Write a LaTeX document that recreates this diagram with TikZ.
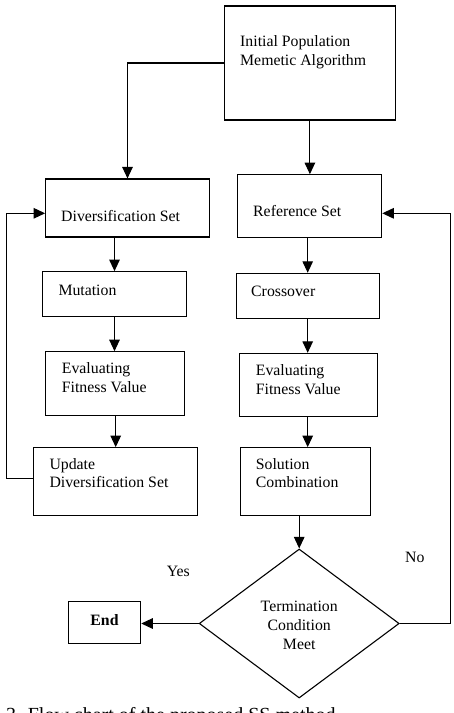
\documentclass[tikz,border=0pt]{standalone}
\usepackage{fontspec}
\setmainfont{Liberation Serif}
\usetikzlibrary{shapes.geometric,arrows.meta}
\begin{document}
\begin{tikzpicture}[x=1pt,y=-1pt,
  box/.style={draw,line width=1.1pt,inner sep=0pt,rectangle},
  dbox/.style={draw,line width=1.1pt,inner sep=0pt,diamond},
  % text is placed by the baseline of its first line
  txt/.style={inner sep=0pt,anchor=north west,align=left,yshift=12.95pt,
    font=\fontsize{15.8}{18.5}\selectfont,execute at begin node=\strut},
  ctxt/.style={inner sep=0pt,anchor=north,align=center,yshift=13.3pt,
    font=\fontsize{15.8}{19}\selectfont,execute at begin node=\strut},
  link/.style={line width=1.1pt,-{Triangle[length=11.5pt,width=10.5pt]}}]
\useasboundingbox (0,0) rectangle (453,713);
\clip (0,0) rectangle (453,713);
\fill[white] (0,0) rectangle (453,713);

% boxes
\node[box,minimum width=171.7,minimum height=114] (init) at (309.9,63) {};
\node[box,minimum width=163.6,minimum height=58] (div) at (127.5,208) {};
\node[box,minimum width=144.7,minimum height=62.3] (ref) at (309.4,205.9) {};
\node[box,minimum width=143.6,minimum height=45] (mut) at (114.5,294.2) {};
\node[box,minimum width=143.3,minimum height=45] (cross) at (307.7,295.8) {};
\node[box,minimum width=138.3,minimum height=63.3] (evalL) at (114.9,383.4) {};
\node[box,minimum width=138,minimum height=62.7] (evalR) at (308.7,384.7) {};
\node[box,minimum width=164,minimum height=67.6] (upd) at (115.7,481.5) {};
\node[box,minimum width=130.3,minimum height=67.6] (sol) at (305.2,481.5) {};
\node[box,minimum width=72.4,minimum height=42.7] (end) at (104.5,622.4) {};
\node[dbox,minimum width=200,minimum height=149] (dia) at (299.2,623.5) {};

% box texts
\node[txt] (tInit) at (240,48.5) {Initial Population\\Memetic Algorithm};
\node[txt] (tDiv) at (61,221.7) {Diversification Set};
\node[txt] (tRef) at (253,216.7) {Reference Set};
\node[txt] (tMut) at (58.3,295) {Mutation};
\node[txt] (tCross) at (251,296.7) {Crossover};
\node[txt] (tEvalL) at (61.7,375.7) {Evaluating\\Fitness Value};
\node[txt] (tEvalR) at (255.7,377.3) {Evaluating\\Fitness Value};
\node[txt] (tUpd) at (49.3,471) {Update\\Diversification Set};
\node[txt] (tSol) at (255.7,471) {Solution\\Combination};
\node[ctxt] (tEnd) at (104.5,625) {\bfseries End};
\node[ctxt] (tDia) at (299.2,614) {Termination\\Condition\\Meet};
\node[txt] (tYes) at (166.7,576) {Yes};
\node[txt] (tNo) at (405,562.3) {No};

% caption at the lower edge
\node[inner sep=0pt,anchor=base west,font=\fontsize{20}{23}\selectfont]
  (cap) at (6,721.5) {3. Flow chart of the proposed SS method};

% turning points of the loop-back lines
\coordinate (lb) at (6.7,478.3);
\coordinate (lt) at (6.7,213.3);
\coordinate (rt) at (450.7,213.3);

% connectors
\draw[link] (init.west) -| (div.north);
\draw[link] (init.south) -- (init.south |- ref.north);
\draw[link] (div.south -| mut.north) -- (mut.north);
\draw[link] (mut.south) -- (mut.south |- evalL.north);
\draw[link] (evalL.south -| upd.north) -- (upd.north);
\draw[link] (ref.south -| cross.north) -- (cross.north);
\draw[link] (cross.south) -- (cross.south |- evalR.north);
\draw[link] (evalR.south -| cross.south) -- (cross.south |- sol.north);
\draw[link] (sol.south -| dia.north) -- (dia.north);
\draw[link] (dia.west) -- (dia.west -| end.east);
\draw[link] (dia.east) -| (rt) -- (rt -| ref.east);
\draw[link] (lb -| upd.west) -- (lb) -- (lt) -- (lt -| div.west);
\end{tikzpicture}
\end{document}
